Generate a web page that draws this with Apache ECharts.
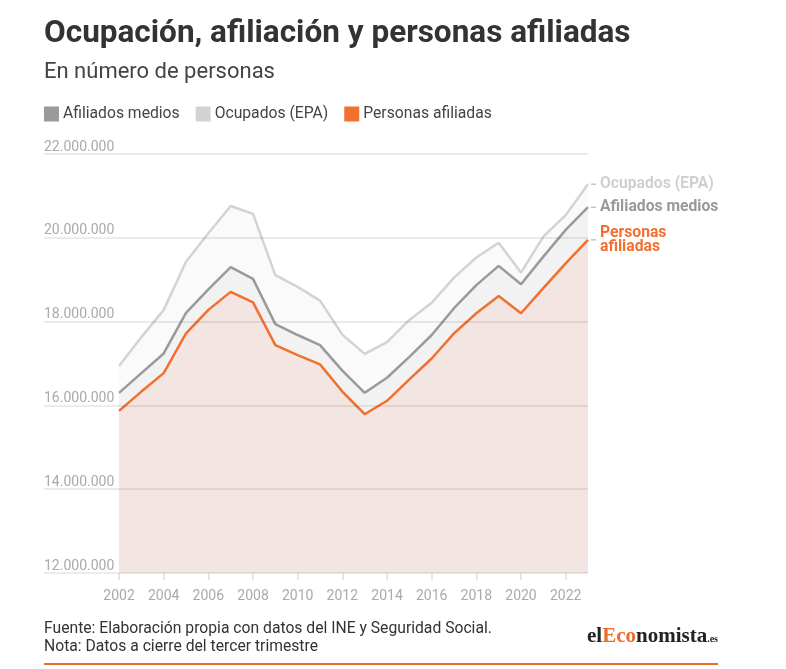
<!DOCTYPE html>
<html>
<head>
<meta charset="utf-8">
<script src="https://cdn.jsdelivr.net/npm/echarts@6/dist/echarts.min.js"></script>
<style>html,body{margin:0;padding:0;background:#fff}#c{width:786px;height:669px}</style>
</head>
<body>
<div id="c"></div>
<script>
var years = [2002,2003,2004,2005,2006,2007,2008,2009,2010,2011,2012,2013,2014,2015,2016,2017,2018,2019,2020,2021,2022,2023];
var ocupados = [16940000,17630000,18280000,19430000,20110000,20760000,20570000,19110000,18830000,18500000,17690000,17230000,17510000,18040000,18450000,19050000,19530000,19880000,19170000,20030000,20540000,21280000];
var afiliadosMedios = [16300000,16770000,17240000,18210000,18770000,19300000,19020000,17940000,17680000,17440000,16830000,16300000,16660000,17160000,17680000,18320000,18870000,19330000,18890000,19550000,20190000,20730000];
var personasAfiliadas = [15870000,16330000,16770000,17720000,18280000,18710000,18460000,17440000,17200000,16980000,16330000,15790000,16110000,16620000,17120000,17720000,18200000,18610000,18200000,18800000,19390000,19950000];
var xTicks = [2002,2004,2006,2008,2010,2012,2014,2016,2018,2020,2022];
var yTicks = [12000000,14000000,16000000,18000000,20000000,22000000];

function pairs(arr){ return years.map(function(y,i){ return [y, arr[i]]; }); }
function fmt(v){ return String(v).replace(/\B(?=(\d{3})+(?!\d))/g,'.'); }

var F = 'Roboto, "Noto Sans", sans-serif';
var chart = echarts.init(document.getElementById('c'), null, {renderer:'canvas'});

var baseGraphic = [
  {id:'title', type:'text', x:44, y:34, style:{text:'Ocupación, afiliación y personas afiliadas', font:'bold 31.5px '+F, fill:'#333', textVerticalAlign:'middle'}},
  {id:'sub', type:'text', x:44, y:72, style:{text:'En número de personas', font:'22px '+F, fill:'#444', textVerticalAlign:'middle'}},
  {id:'f1', type:'text', x:44, y:629, style:{text:'Fuente: Elaboración propia con datos del INE y Seguridad Social.', font:'15.7px '+F, fill:'#333', textVerticalAlign:'middle'}},
  {id:'f2', type:'text', x:44, y:647, style:{text:'Nota: Datos a cierre del tercer trimestre', font:'15.7px '+F, fill:'#333', textVerticalAlign:'middle'}},
  {id:'logo', type:'text', x:718, y:637, style:{
    text:'{a|el}{b|Eco}{a|nomista}{c|.es}', align:'right', verticalAlign:'middle',
    rich:{
      a:{font:'bold 21px "Liberation Serif", "DejaVu Serif", serif', fill:'#222', verticalAlign:'bottom'},
      b:{font:'bold 21px "Liberation Serif", "DejaVu Serif", serif', fill:'#ee6c2b', verticalAlign:'bottom'},
      c:{font:'bold 10px "Liberation Serif", "DejaVu Serif", serif', fill:'#222', verticalAlign:'bottom', padding:[0,0,3,0]}
    }}},
  {id:'rule', type:'rect', shape:{x:44, y:663, width:674, height:2}, style:{fill:'#ee6c2b'}}
];

var option = {
  animation:false,
  textStyle:{fontFamily:F},
  legend:{
    left:44, top:106, padding:0, itemWidth:15, itemHeight:15, itemGap:16, icon:'rect',
    data:['Afiliados medios','Ocupados (EPA)','Personas afiliadas'],
    textStyle:{fontSize:15.7, color:'#444', padding:[0,0,0,-1]}
  },
  grid:{left:44, right:198, top:154, bottom:96, containLabel:false},
  xAxis:{
    type:'value', min:1998.64, max:2023,
    splitLine:{show:false},
    axisLine:{show:false},
    axisTick:{show:true, customValues:xTicks, length:7, lineStyle:{color:'#e6e6e6', width:2}},
    axisLabel:{customValues:xTicks, color:'#aaa', fontSize:14, margin:16, formatter:function(v){return String(v);}}
  },
  yAxis:{
    type:'value', min:12000000, max:22000000, interval:2000000, z:5,
    axisLine:{show:false}, axisTick:{show:false},
    splitLine:{show:true, lineStyle:{color:'rgba(0,0,0,0.08)', width:2}},
    axisLabel:{inside:true, margin:0, verticalAlign:'bottom', padding:[0,0,0,0], color:'#aaa', fontSize:14,
      showMinLabel:true, showMaxLabel:true, formatter:function(v){return fmt(v);}}
  },
  series:[
    {name:'Ocupados (EPA)', type:'line', data:pairs(ocupados), symbol:'none', z:2,
     lineStyle:{color:'#d3d3d3', width:2.5}, itemStyle:{color:'#d3d3d3'},
     areaStyle:{color:'#fafafa', opacity:1, origin:'start'},
     endLabel:{show:true, distance:12, formatter:'Ocupados (EPA)', color:'#d0d0d0', fontWeight:'bold', fontSize:15.7}},
    {name:'Afiliados medios', type:'line', data:pairs(afiliadosMedios), symbol:'none', z:3,
     lineStyle:{color:'#9a9a9a', width:2.5}, itemStyle:{color:'#9a9a9a'},
     areaStyle:{color:'#f2f2f2', opacity:1, origin:'start'},
     endLabel:{show:true, distance:12, formatter:'Afiliados medios', color:'#999', fontWeight:'bold', fontSize:15.7}},
    {name:'Personas afiliadas', type:'line', data:pairs(personasAfiliadas), symbol:'none', z:4,
     lineStyle:{color:'#f1702f', width:2.5}, itemStyle:{color:'#f1702f'},
     areaStyle:{color:'#f3e5e1', opacity:1, origin:'start'},
     endLabel:{show:true, distance:12, formatter:'Personas\nafiliadas', color:'#f1702f', fontWeight:'bold', fontSize:15.7, lineHeight:14}}
  ],
  graphic:baseGraphic
};
chart.setOption(option);

var last = years.length - 1;
var dashes = [ocupados, afiliadosMedios, personasAfiliadas].map(function(arr, i){
  var p = chart.convertToPixel({gridIndex:0}, [years[last], arr[last]]);
  return {id:'dash'+i, type:'line', shape:{x1:p[0]+3, y1:p[1], x2:p[0]+8, y2:p[1]}, style:{stroke:'#aaa', lineWidth:1}, z:10};
});
chart.setOption({graphic: baseGraphic.concat(dashes)});
</script>
</body>
</html>
